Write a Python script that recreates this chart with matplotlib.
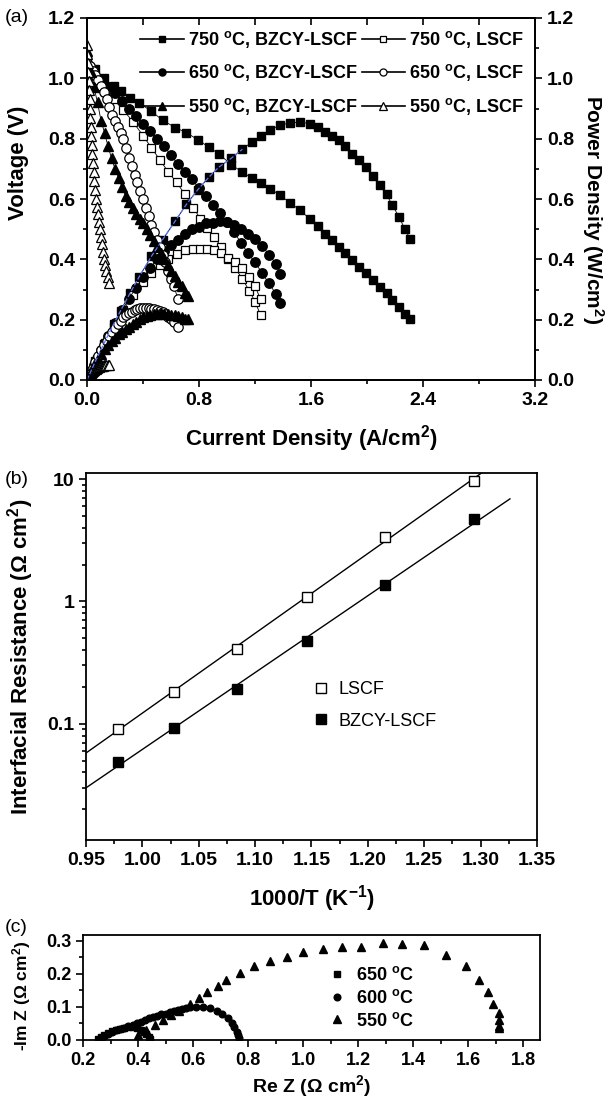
import matplotlib
matplotlib.use('Agg')
import matplotlib.pyplot as plt
from matplotlib.ticker import MultipleLocator, LogLocator, NullFormatter, FixedLocator, FormatStrFormatter
import numpy as np

plt.rcParams['font.family'] = ['Liberation Sans', 'DejaVu Sans']
plt.rcParams['font.weight'] = 'bold'
plt.rcParams['axes.labelweight'] = 'bold'
plt.rcParams['mathtext.fontset'] = 'custom'
plt.rcParams['mathtext.rm'] = 'Liberation Sans:bold'
plt.rcParams['mathtext.bf'] = 'Liberation Sans:bold'
plt.rcParams['mathtext.default'] = 'bf'

# ---------------- (a) I-V and power curves ----------------
i750b = [0.00, 0.06, 0.12, 0.19, 0.24, 0.31, 0.37, 0.46, 0.54, 0.63, 0.71, 0.79, 0.87, 0.94, 1.03, 1.11,
         1.18, 1.24, 1.31, 1.38, 1.45, 1.52, 1.59, 1.65, 1.70, 1.75, 1.80, 1.84, 1.89, 1.94, 1.99, 2.04,
         2.09, 2.14, 2.18, 2.23, 2.27, 2.31]
v750b = [1.06, 1.03, 1.00, 0.975, 0.958, 0.935, 0.919, 0.891, 0.861, 0.837, 0.820, 0.797, 0.772, 0.750,
         0.714, 0.689, 0.669, 0.653, 0.634, 0.612, 0.588, 0.563, 0.535, 0.509, 0.484, 0.463, 0.442, 0.421,
         0.397, 0.376, 0.354, 0.331, 0.309, 0.287, 0.266, 0.242, 0.220, 0.202]
p750b = [0, 0.062, 0.120, 0.185, 0.230, 0.290, 0.340, 0.410, 0.465, 0.527, 0.582, 0.630, 0.672, 0.705,
         0.735, 0.765, 0.790, 0.810, 0.830, 0.845, 0.852, 0.855, 0.850, 0.840, 0.822, 0.810, 0.795, 0.775,
         0.750, 0.730, 0.705, 0.675, 0.645, 0.615, 0.580, 0.540, 0.500, 0.467]

i750l = [0, 0.03, 0.07, 0.13, 0.19, 0.26, 0.33, 0.40, 0.46, 0.52, 0.58, 0.64, 0.70, 0.76, 0.81, 0.86,
         0.91, 0.96, 1.01, 1.06, 1.11, 1.16, 1.20, 1.24]
v750l = [1.02, 0.995, 0.975, 0.955, 0.93, 0.895, 0.855, 0.81, 0.77, 0.73, 0.69, 0.655, 0.615, 0.57,
         0.535, 0.505, 0.475, 0.44, 0.40, 0.37, 0.335, 0.295, 0.26, 0.215]
p750l = [0, 0.030, 0.068, 0.124, 0.177, 0.233, 0.282, 0.324, 0.354, 0.380, 0.400, 0.419, 0.431, 0.433,
         0.433, 0.434, 0.432, 0.422, 0.404, 0.392, 0.372, 0.342, 0.312, 0.267]

i650b = [0, 0.05, 0.10, 0.15, 0.20, 0.25, 0.30, 0.35, 0.40, 0.45, 0.50, 0.55, 0.60, 0.65, 0.70, 0.75,
         0.80, 0.85, 0.90, 0.95, 1.00, 1.05, 1.10, 1.15, 1.20, 1.25, 1.30, 1.35, 1.38]
v650b = [1.03, 1.01, 0.99, 0.97, 0.95, 0.925, 0.90, 0.875, 0.85, 0.825, 0.80, 0.775, 0.745, 0.715, 0.69,
         0.665, 0.635, 0.61, 0.58, 0.555, 0.525, 0.49, 0.455, 0.42, 0.39, 0.355, 0.32, 0.285, 0.255]
p650b = [0, 0.051, 0.099, 0.146, 0.190, 0.231, 0.270, 0.306, 0.340, 0.371, 0.400, 0.426, 0.447, 0.465,
         0.483, 0.499, 0.508, 0.519, 0.522, 0.527, 0.525, 0.515, 0.501, 0.483, 0.468, 0.444, 0.416, 0.385,
         0.352]

i650l = [0, 0.02, 0.04, 0.06, 0.08, 0.10, 0.12, 0.14, 0.16, 0.18, 0.20, 0.22, 0.24, 0.26, 0.28, 0.30,
         0.32, 0.34, 0.36, 0.38, 0.40, 0.42, 0.44, 0.46, 0.48, 0.50, 0.52, 0.54, 0.56, 0.58, 0.60, 0.62, 0.65]
v650l = [1.05, 1.04, 1.025, 1.01, 0.995, 0.975, 0.955, 0.93, 0.905, 0.88, 0.86, 0.84, 0.82, 0.80, 0.77,
         0.735, 0.71, 0.68, 0.655, 0.625, 0.60, 0.57, 0.545, 0.515, 0.49, 0.465, 0.44, 0.415, 0.39, 0.36,
         0.335, 0.31, 0.27]
p650l = [0, 0.021, 0.041, 0.061, 0.080, 0.098, 0.115, 0.130, 0.145, 0.158, 0.172, 0.185, 0.197, 0.208,
         0.216, 0.221, 0.227, 0.231, 0.236, 0.238, 0.240, 0.239, 0.240, 0.237, 0.235, 0.233, 0.229, 0.224,
         0.218, 0.209, 0.201, 0.192, 0.176]

i550b = [0, 0.025, 0.05, 0.075, 0.10, 0.125, 0.15, 0.175, 0.20, 0.225, 0.25, 0.275, 0.30, 0.325, 0.35,
         0.375, 0.40, 0.425, 0.45, 0.475, 0.50, 0.525, 0.55, 0.575, 0.60, 0.625, 0.65, 0.675, 0.70, 0.72]
v550b = [1.09, 1.02, 0.97, 0.92, 0.86, 0.82, 0.775, 0.735, 0.70, 0.67, 0.64, 0.61, 0.59, 0.57, 0.55,
         0.535, 0.52, 0.50, 0.48, 0.46, 0.44, 0.42, 0.40, 0.38, 0.36, 0.345, 0.325, 0.31, 0.29, 0.28]
p550b = [0, 0.026, 0.049, 0.069, 0.086, 0.103, 0.116, 0.129, 0.140, 0.151, 0.160, 0.168, 0.177, 0.185,
         0.193, 0.201, 0.208, 0.213, 0.216, 0.219, 0.220, 0.221, 0.220, 0.219, 0.216, 0.216, 0.211, 0.209,
         0.203, 0.202]

i550l = [0.000, 0.003, 0.006, 0.009, 0.012, 0.015, 0.018, 0.021, 0.024, 0.027, 0.030, 0.034, 0.038,
         0.042, 0.047, 0.052, 0.058, 0.064, 0.070, 0.077, 0.084, 0.091, 0.098, 0.106, 0.114, 0.122, 0.130,
         0.139, 0.148, 0.157]
v550l = [1.11, 1.08, 1.05, 1.02, 0.99, 0.96, 0.93, 0.90, 0.87, 0.84, 0.81, 0.78, 0.75, 0.72, 0.69, 0.66,
         0.63, 0.60, 0.575, 0.55, 0.525, 0.50, 0.475, 0.45, 0.425, 0.40, 0.38, 0.36, 0.34, 0.32]
p550l = [0, 0.003, 0.006, 0.009, 0.012, 0.014, 0.017, 0.019, 0.021, 0.023, 0.024, 0.027, 0.029, 0.030,
         0.032, 0.034, 0.037, 0.038, 0.040, 0.042, 0.044, 0.046, 0.047, 0.048, 0.048, 0.049, 0.049, 0.050,
         0.050, 0.050]

# ---------------- (b) Arrhenius plot ----------------
inv_t = [0.978, 1.028, 1.084, 1.146, 1.215, 1.294]
r_lscf = [0.091, 0.181, 0.411, 1.08, 3.38, 9.7]
r_bzcy = [0.049, 0.093, 0.191, 0.475, 1.35, 4.7]

# ---------------- (c) impedance spectra ----------------
re650 = [0.255, 0.265, 0.275, 0.29, 0.305, 0.32, 0.335, 0.35, 0.365, 0.38, 0.395, 0.41, 0.42, 0.43, 0.44, 0.445]
im650 = [0.003, 0.010, 0.016, 0.021, 0.026, 0.030, 0.033, 0.036, 0.038, 0.038, 0.036, 0.030, 0.024, 0.017,
         0.010, 0.004]
re600 = [0.265, 0.275, 0.29, 0.305, 0.32, 0.335, 0.35, 0.365, 0.38, 0.395, 0.41, 0.425, 0.44, 0.455, 0.47,
         0.485, 0.50, 0.515, 0.53, 0.545, 0.56, 0.575, 0.59, 0.61, 0.635, 0.66, 0.685, 0.705, 0.725, 0.74,
         0.75, 0.758, 0.763, 0.766]
im600 = [0.005, 0.012, 0.018, 0.024, 0.029, 0.033, 0.037, 0.041, 0.045, 0.050, 0.055, 0.060, 0.065, 0.069,
         0.073, 0.077, 0.080, 0.084, 0.087, 0.090, 0.093, 0.096, 0.099, 0.101, 0.099, 0.096, 0.089, 0.079,
         0.066, 0.052, 0.038, 0.025, 0.014, 0.005]
re550 = [0.40, 0.43, 0.46, 0.49, 0.52, 0.55, 0.59, 0.62, 0.65, 0.69, 0.72, 0.77, 0.82, 0.88, 0.94, 1.00,
         1.07, 1.14, 1.21, 1.29, 1.36, 1.44, 1.52, 1.59, 1.64, 1.67, 1.69, 1.71, 1.71, 1.71, 1.71]
im550 = [0.015, 0.030, 0.045, 0.060, 0.074, 0.088, 0.110, 0.126, 0.146, 0.164, 0.181, 0.201, 0.222, 0.237,
         0.252, 0.265, 0.274, 0.280, 0.282, 0.292, 0.290, 0.287, 0.257, 0.222, 0.181, 0.144, 0.108, 0.083,
         0.060, 0.042, 0.035]

W, H = 616, 1097
fig = plt.figure(figsize=(W / 100, H / 100), dpi=100)


def box(l, t, r, b):
    return [l / W, 1 - b / H, (r - l) / W, (b - t) / H]


def style_spines(ax):
    for s in ax.spines.values():
        s.set_linewidth(1.3)


# ===== panel (a) =====
ax = fig.add_axes(box(87, 18, 535, 380))
style_spines(ax)
kw_fill = dict(color='k', lw=0.6, mfc='k', mec='k')
kw_open = dict(color='k', lw=0.6, mfc='white', mec='k', mew=0.9)

h1, = ax.plot(i750b, v750b, marker='s', ms=5.8, label='750 $^{o}$C, BZCY-LSCF', **kw_fill)
ax.plot(i750b, p750b, marker='s', ms=5.8, **kw_fill)
low = np.array(i750b) <= 1.11
ax.plot(np.array(i750b)[low], np.array(p750b)[low], color='#5a78ff', lw=0.9, ls='--', zorder=3)
h4, = ax.plot(i750l, v750l, marker='s', ms=6, label='750 $^{o}$C, LSCF', **kw_open)
ax.plot(i750l, p750l, marker='s', ms=6, **kw_open)
h2, = ax.plot(i650b, v650b, marker='o', ms=6.8, label='650 $^{o}$C, BZCY-LSCF', **kw_fill)
ax.plot(i650b, p650b, marker='o', ms=6.8, **kw_fill)
h5, = ax.plot(i650l, v650l, marker='o', ms=6.8, label='650 $^{o}$C, LSCF', **kw_open)
ax.plot(i650l, p650l, marker='o', ms=6.8, **kw_open)
h3, = ax.plot(i550b, v550b, marker='^', ms=6.8, label='550 $^{o}$C, BZCY-LSCF', **kw_fill)
ax.plot(i550b, p550b, marker='^', ms=6.8, **kw_fill)
h6, = ax.plot(i550l, v550l, marker='^', ms=6.8, label='550 $^{o}$C, LSCF', **kw_open)
ax.plot(i550l, p550l, marker='^', ms=6.8, **kw_open)

ax.set_xlim(0, 3.2)
ax.set_ylim(0, 1.2)
ax.xaxis.set_major_locator(MultipleLocator(0.8))
ax.xaxis.set_minor_locator(MultipleLocator(0.4))
ax.yaxis.set_major_locator(MultipleLocator(0.2))
ax.yaxis.set_minor_locator(MultipleLocator(0.1))
ax.xaxis.set_major_formatter(FormatStrFormatter('%.1f'))
ax.yaxis.set_major_formatter(FormatStrFormatter('%.1f'))
ax.tick_params(which='both', direction='out', labelsize=14, width=1.2)
ax.tick_params(which='major', length=5)
ax.tick_params(which='minor', length=3)
ax.set_xlabel('Current Density (A/cm$^{2}$)', fontsize=16, labelpad=10)
ax.set_ylabel('Voltage (V)', fontsize=16, labelpad=6)
ax.yaxis.set_label_coords(-0.13, 0.6)

top = ax.secondary_xaxis('top')
top.xaxis.set_major_locator(MultipleLocator(0.4))
top.tick_params(direction='in', length=5, width=1.2, labeltop=False)
top.spines['top'].set_linewidth(1.3)

axr = ax.twinx()
axr.set_ylim(0, 1.2)
axr.yaxis.set_major_locator(MultipleLocator(0.2))
axr.yaxis.set_minor_locator(MultipleLocator(0.1))
axr.yaxis.set_major_formatter(FormatStrFormatter('%.1f'))
axr.tick_params(which='both', direction='out', labelsize=14, width=1.2)
axr.tick_params(which='major', length=5)
axr.tick_params(which='minor', length=3)
axr.set_ylabel('Power Density (W/cm$^{2}$)', fontsize=15, rotation=270, va='center')
axr.yaxis.set_label_coords(1.13, 0.47)
style_spines(axr)

leg_a = ax.legend(handles=[h1, h2, h3, h4, h5, h6], ncol=2, loc='upper right', bbox_to_anchor=(1.0, 1.0),
                  frameon=False, fontsize=13, handlelength=2.4, handletextpad=0.25, columnspacing=0.2,
                  labelspacing=0.7, borderaxespad=0.2, markerscale=0.75)
for ln in leg_a.get_lines():
    ln.set_linewidth(1.2)

fig.text(0.008, 1 - 18 / H, '(a)', fontsize=14, fontweight='normal', va='center')

# ===== panel (b) =====
bx = fig.add_axes(box(86, 473, 537, 840))
style_spines(bx)
bx.set_yscale('log')
bx.set_xlim(0.95, 1.35)
bx.set_ylim(0.0112, 11.2)
x_arr = np.array(inv_t)
for r, end in ((r_lscf, 1.33), (r_bzcy, 1.326)):
    p = np.polyfit(x_arr, np.log10(r), 1)
    xs = np.array([0.95, end])
    bx.plot(xs, 10 ** np.polyval(p, xs), color='k', lw=1.0)
bx.plot(inv_t, r_lscf, 's', mfc='white', mec='k', mew=1.0, ms=6.5, label='LSCF')
bx.plot(inv_t, r_bzcy, 's', mfc='k', mec='k', ms=6.5, label='BZCY-LSCF')
bx.xaxis.set_major_locator(MultipleLocator(0.05))
bx.xaxis.set_minor_locator(MultipleLocator(0.025))
bx.xaxis.set_major_formatter(FormatStrFormatter('%.2f'))
bx.yaxis.set_major_locator(FixedLocator([0.1, 1, 10]))
bx.yaxis.set_minor_locator(LogLocator(base=10, subs=np.arange(2, 10)))
bx.yaxis.set_minor_formatter(NullFormatter())
bx.set_yticklabels(['0.1', '1', '10'])
bx.tick_params(which='both', direction='out', labelsize=14, width=1.2)
bx.tick_params(which='major', length=5)
bx.tick_params(which='minor', length=3)
bx.set_xlabel('1000/T (K$^{-1}$)', fontsize=16, labelpad=10)
bx.set_ylabel('Interfacial Resistance (\u03a9 cm$^{2}$)', fontsize=16, labelpad=8)
leg = bx.legend(loc='center left', bbox_to_anchor=(0.5, 0.367), frameon=False, fontsize=13,
                handlelength=1.0, handletextpad=0.5, labelspacing=0.8, borderaxespad=0, borderpad=0)
for t in leg.get_texts():
    t.set_fontweight('normal')
fig.text(0.008, 1 - 479 / H, '(b)', fontsize=14, fontweight='normal', va='center')

# ===== panel (c) =====
cx = fig.add_axes(box(83, 935, 540, 1040))
style_spines(cx)
cx.plot(re650, im650, 's', color='k', ms=4.5, label='650 $^{o}$C')
cx.plot(re600, im600, 'o', color='k', ms=4.8, label='600 $^{o}$C')
cx.plot(re550, im550, '^', color='k', ms=5.2, label='550 $^{o}$C')
cx.set_xlim(0.2, 1.86)
cx.set_ylim(0, 0.317)
cx.xaxis.set_major_locator(MultipleLocator(0.2))
cx.xaxis.set_minor_locator(MultipleLocator(0.1))
cx.yaxis.set_major_locator(MultipleLocator(0.1))
cx.yaxis.set_minor_locator(MultipleLocator(0.05))
cx.xaxis.set_major_formatter(FormatStrFormatter('%.1f'))
cx.yaxis.set_major_formatter(FormatStrFormatter('%.1f'))
cx.tick_params(which='both', direction='out', labelsize=13, width=1.2)
cx.tick_params(which='major', length=5)
cx.tick_params(which='minor', length=3)
cx.set_xlabel('Re Z (\u03a9 cm$^{2}$)', fontsize=14, labelpad=3)
cx.set_ylabel('-Im Z (\u03a9 cm$^{2}$)', fontsize=12.5, labelpad=5)
cx.yaxis.set_label_coords(-0.11, 0.42)
cx.legend(loc='center left', bbox_to_anchor=(0.535, 0.40), frameon=False, fontsize=13,
          handlelength=1.0, handletextpad=0.6, labelspacing=0.25, borderaxespad=0, borderpad=0)
fig.text(0.008, 1 - 928 / H, '(c)', fontsize=14, fontweight='normal', va='center')

fig.savefig('out.png', dpi=100)
